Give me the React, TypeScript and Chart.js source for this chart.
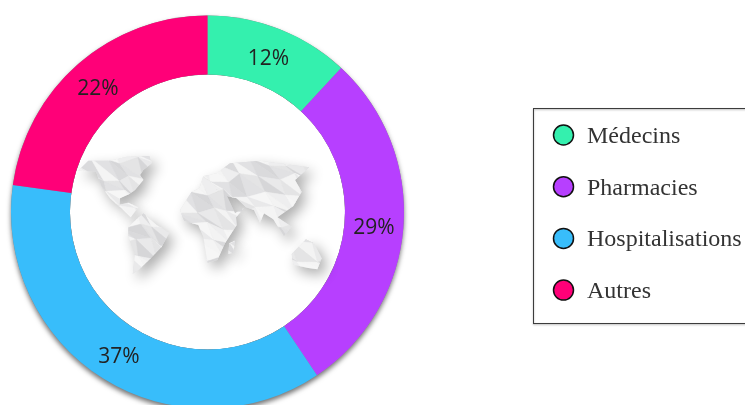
import React, { useEffect, useRef } from "react";
import { Chart, registerables } from "chart.js";

Chart.register(...registerables);

const categories = ["Médecins", "Pharmacies", "Hospitalisations", "Autres"];
const shareValues = [11.9, 28.7, 36.6, 22.8];
const shareLabels = ["12%", "29%", "37%", "22%"];
const sliceColors = ["#34F0AE", "#B73FFF", "#38BDFB", "#FF0078"];

// Decorative low-poly world map, in the coordinates of a zoomed crop
const continents: number[][][] = [
  [[55,122],[85,92],[150,92],[200,80],[268,78],[275,100],[250,120],[240,135],[250,150],[225,180],[208,192],[180,205],[178,230],[150,205],[125,170],[108,125]],
  [[175,225],[205,218],[235,232],[212,262],[195,245]],
  [[205,290],[250,250],[290,285],[328,308],[305,350],[272,385],[238,418],[218,432],[225,370],[205,320]],
  [[360,240],[395,185],[440,165],[475,180],[500,195],[525,250],[555,232],[528,262],[530,285],[495,340],[472,390],[442,398],[430,320],[415,285],[372,272]],
  [[430,138],[470,130],[510,100],[600,92],[748,112],[705,150],[725,185],[700,228],[652,262],[695,290],[672,318],[640,268],[612,250],[600,278],[582,240],[558,232],[530,205],[500,198],[470,178],[418,175]],
  [[695,372],[738,328],[762,340],[785,385],[772,418],[745,414],[700,404]],
  [[508,340],[525,332],[520,368],[505,372]],
];
const facetGreys = ["#e9e9ea", "#dadadc", "#f3f3f3", "#e1e1e3", "#f6f6f6", "#d6d6d8", "#eeeeef", "#e4e4e5", "#f4f4f4"];
const jitter = [7, -11, 13, -5, -14, 9, 3, -8, 12, -13, 5, 10, -6];

const mapX = (x: number) => 60 + x / 3;
const mapY = (y: number) => 130 + y / 3;

const tracePoly = (ctx: CanvasRenderingContext2D, poly: number[][]) => {
  ctx.beginPath();
  poly.forEach((p, i) => (i ? ctx.lineTo(mapX(p[0]), mapY(p[1])) : ctx.moveTo(mapX(p[0]), mapY(p[1]))));
  ctx.closePath();
};

const worldMapPlugin = {
  id: "worldMap",
  afterDatasetsDraw(chart: any) {
    const ctx = chart.ctx as CanvasRenderingContext2D;
    const cell = 48;
    const node = (c: number, r: number) => [
      c * cell + jitter[(c * 3 + r * 5) % jitter.length] + (r % 2) * cell * 0.5,
      r * cell + jitter[(c * 7 + r * 2 + 4) % jitter.length],
    ];
    continents.forEach((poly) => {
      ctx.save();
      ctx.shadowColor = "rgba(0,0,0,0.32)";
      ctx.shadowBlur = 13;
      ctx.shadowOffsetX = 5;
      ctx.shadowOffsetY = 6;
      ctx.fillStyle = "#e4e4e5";
      tracePoly(ctx, poly);
      ctx.fill();
      ctx.restore();
    });
    continents.forEach((poly) => {
      ctx.save();
      tracePoly(ctx, poly);
      ctx.clip();
      for (let r = 0; r < 11; r++) {
        for (let c = 0; c < 18; c++) {
          const odd = r % 2;
          const a = node(c, r);
          const b = node(c + 1, r);
          const d = node(c + odd, r + 1);
          const e = node(c + odd + 1, r + 1);
          [[a, b, e], [a, e, d]].forEach((t, k) => {
            ctx.fillStyle = facetGreys[(c * 2 + r * 4 + k * 5) % facetGreys.length];
            ctx.strokeStyle = ctx.fillStyle;
            ctx.lineWidth = 0.5;
            ctx.beginPath();
            ctx.moveTo(mapX(t[0][0]), mapY(t[0][1]));
            ctx.lineTo(mapX(t[1][0]), mapY(t[1][1]));
            ctx.lineTo(mapX(t[2][0]), mapY(t[2][1]));
            ctx.closePath();
            ctx.fill();
            ctx.stroke();
          });
        }
      }
      ctx.restore();
    });
  },
};

const ringShadowPlugin = {
  id: "ringShadow",
  beforeDatasetsDraw(chart: any) {
    const ctx = chart.ctx as CanvasRenderingContext2D;
    const a = chart.getDatasetMeta(0).data[0];
    ctx.save();
    ctx.beginPath();
    ctx.rect(0, 0, chart.width, chart.height);
    ctx.arc(a.x, a.y, a.innerRadius, 0, Math.PI * 2, true);
    ctx.clip("evenodd");
    ctx.shadowColor = "rgba(0,0,0,0.55)";
    ctx.shadowBlur = 5;
    ctx.shadowOffsetY = 3;
    ctx.fillStyle = "#888";
    ctx.beginPath();
    ctx.arc(a.x, a.y, a.outerRadius, 0, Math.PI * 2);
    ctx.fill();
    ctx.restore();
  },
};

const sliceLabelPlugin = {
  id: "sliceLabels",
  afterDatasetsDraw(chart: any) {
    const ctx = chart.ctx as CanvasRenderingContext2D;
    ctx.save();
    ctx.font = '21px "Open Sans"';
    ctx.fillStyle = "#222";
    ctx.textAlign = "center";
    ctx.textBaseline = "middle";
    chart.getDatasetMeta(0).data.forEach((arc: any, i: number) => {
      const p = arc.getCenterPoint();
      ctx.fillText(shareLabels[i], p.x, p.y + 3);
    });
    ctx.restore();
  },
};

const boxedLegendPlugin = {
  id: "boxedLegend",
  afterDraw(chart: any) {
    const ctx = chart.ctx as CanvasRenderingContext2D;
    ctx.save();
    ctx.save();
    ctx.shadowColor = "rgba(0,0,0,0.35)";
    ctx.shadowBlur = 2;
    ctx.shadowOffsetY = 1;
    ctx.strokeStyle = "#3c3c3c";
    ctx.lineWidth = 1;
    ctx.strokeRect(533.5, 108.5, 220, 215);
    ctx.restore();
    ctx.font = '24px "Liberation Serif"';
    ctx.textBaseline = "alphabetic";
    ctx.textAlign = "left";
    categories.forEach((name, i) => {
      const y = 135 + i * 51.7;
      ctx.beginPath();
      ctx.arc(563.5, y, 10, 0, Math.PI * 2);
      ctx.fillStyle = sliceColors[i];
      ctx.fill();
      ctx.lineWidth = 1.5;
      ctx.strokeStyle = "#111";
      ctx.stroke();
      ctx.fillStyle = "#333";
      ctx.fillText(name, 587, y + 8);
    });
    ctx.restore();
  },
};

export default function App() {
  const ref = useRef<HTMLCanvasElement>(null);
  useEffect(() => {
    document.body.style.margin = "0";
    document.documentElement.style.overflow = "hidden";
    const chart = new Chart(ref.current!, {
      type: "doughnut",
      data: {
        labels: categories,
        datasets: [{ data: shareValues, backgroundColor: sliceColors, borderWidth: 0 }],
      },
      options: {
        responsive: false,
        animation: false,
        cutout: "70%",
        layout: { padding: { left: 11, top: 15, right: 341, bottom: 15 } },
        plugins: { legend: { display: false }, tooltip: { enabled: false } },
      },
      plugins: [ringShadowPlugin, worldMapPlugin, sliceLabelPlugin, boxedLegendPlugin],
    });
    return () => chart.destroy();
  }, []);
  return (
    <div style={{ position: "fixed", left: 0, top: 0, width: 745, height: 405, overflow: "hidden", background: "#fff" }}>
      <canvas ref={ref} width={745} height={424} style={{ display: "block" }} />
    </div>
  );
}
